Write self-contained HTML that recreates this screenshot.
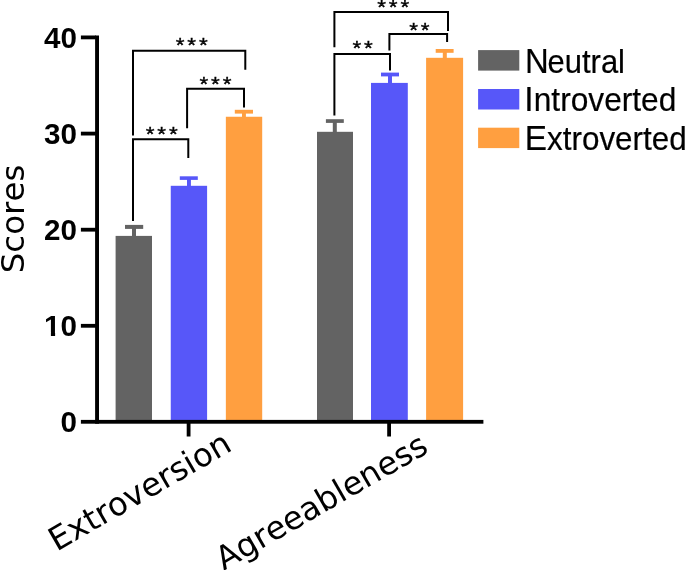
<!DOCTYPE html>
<html>
<head>
<meta charset="utf-8">
<title>Scores chart</title>
<style>
html,body{margin:0;padding:0;background:#fff;}
body{width:685px;height:570px;overflow:hidden;}
svg{display:block;}
text{font-kerning:none;}
.tick{font-family:"Liberation Sans",sans-serif;font-weight:bold;font-size:29.6px;fill:#000;}
.leg{font-family:"Liberation Sans",sans-serif;font-size:32.4px;fill:#000;stroke:#000;stroke-width:0.2px;}
.cap{font-size:34.4px;}
.ax{font-family:"DejaVu Sans",sans-serif;font-size:32.5px;fill:#000;}
.star{font-family:"Liberation Sans",sans-serif;font-size:22.5px;fill:#000;stroke:#000;stroke-width:0.4px;}
.br{fill:none;stroke:#000;stroke-width:2;stroke-linejoin:miter;}
</style>
</head>
<body>
<svg width="685" height="570" viewBox="0 0 685 570">
<rect width="685" height="570" fill="#fff"/>

<!-- bars group 1 -->
<rect x="115.6" y="235.9" width="36.4" height="186" fill="#636363"/>
<rect x="170.75" y="185.8" width="36.35" height="236" fill="#5757f9"/>
<rect x="225.85" y="116.75" width="36.35" height="306" fill="#ff9f40"/>
<!-- bars group 2 -->
<rect x="317" y="131.8" width="36" height="290" fill="#636363"/>
<rect x="371" y="82.9" width="36.8" height="339" fill="#5757f9"/>
<rect x="426.1" y="57.8" width="37" height="364" fill="#ff9f40"/>

<!-- error bars -->
<g fill="#636363">
<rect x="132" y="226" width="4" height="11"/><rect x="125" y="224.9" width="18.2" height="4"/>
<rect x="332.8" y="121" width="4" height="12"/><rect x="325.9" y="119.2" width="17.9" height="3.7"/>
</g>
<g fill="#5757f9">
<rect x="187" y="177" width="3.9" height="10"/><rect x="179.8" y="176.3" width="18" height="3.6"/>
<rect x="388" y="74" width="4" height="10"/><rect x="381" y="72.6" width="18" height="3.8"/>
</g>
<g fill="#ff9f40">
<rect x="242" y="111" width="3.9" height="7"/><rect x="234.8" y="109.8" width="18.2" height="3.8"/>
<rect x="442.8" y="50" width="4" height="9"/><rect x="435.7" y="49" width="17.9" height="3.8"/>
</g>

<!-- axes -->
<g fill="#000">
<rect x="95.1" y="35.5" width="3.9" height="388.2"/>
<rect x="80.9" y="419.9" width="402.5" height="3.8"/>
<rect x="80.9" y="35.5" width="15" height="3.8"/>
<rect x="80.9" y="131.7" width="15" height="3.8"/>
<rect x="80.9" y="227.8" width="15" height="3.8"/>
<rect x="80.9" y="323.9" width="15" height="3.8"/>
<rect x="186.7" y="422" width="3.8" height="14.5"/>
<rect x="387.2" y="422" width="3.8" height="14.5"/>
</g>

<!-- tick labels -->
<text class="tick" transform="translate(76.9,48) scale(1,1)" text-anchor="end">40</text>
<text class="tick" transform="translate(76.9,143.9) scale(1,1)" text-anchor="end">30</text>
<text class="tick" transform="translate(76.9,239.6) scale(1,1)" text-anchor="end">20</text>
<text class="tick" transform="translate(76.9,335.8) scale(1,1)" text-anchor="end">10</text>
<text class="tick" transform="translate(76.9,431.7) scale(1,1)" text-anchor="end">0</text>
<rect x="44.5" y="332.5" width="6.4" height="4.5" fill="#fff"/>
<rect x="55.1" y="332.5" width="6.2" height="4.5" fill="#fff"/>

<!-- significance brackets group 1 -->
<path class="br" d="M133 221 V139.35 H188.3 V158"/>
<path class="br" d="M187.1 128.2 V88.8 H244 V107.5"/>
<path class="br" d="M133 135.5 V50.8 H245.3 V69.7"/>
<!-- significance brackets group 2 -->
<path class="br" d="M334.4 115.4 V54 H390 V70.5"/>
<path class="br" d="M389.4 50.4 V34.04 H447.1 V42"/>
<path class="br" d="M334.4 47.2 V11.96 H448 V30.9"/>

<!-- significance stars -->
<text class="star" transform="translate(180.1,41) scale(1.0,0.93)" x="-4.33 7.27 18.87" y="11.59">***</text>
<text class="star" transform="translate(203.8,80.4) scale(1.0,0.93)" x="-4.33 7.27 18.87" y="11.59">***</text>
<text class="star" transform="translate(150.1,130.2) scale(1.0,0.93)" x="-4.33 7.27 18.87" y="11.59">***</text>
<text class="star" transform="translate(356.7,44) scale(1.0,0.93)" x="-4.33 7.27" y="11.59">**</text>
<text class="star" transform="translate(413.5,26) scale(1.0,0.93)" x="-4.33 7.27" y="11.59">**</text>
<text class="star" transform="translate(381.6,3.1) scale(1.0,0.93)" x="-4.33 7.27 18.87" y="11.59">***</text>

<!-- legend -->
<rect x="478.1" y="50.1" width="41.2" height="20.5" fill="#636363"/>
<rect x="478.1" y="89.0" width="41.2" height="20.5" fill="#5757f9"/>
<rect x="478.1" y="127.7" width="41.2" height="20.4" fill="#ff9f40"/>
<text class="leg" transform="translate(524.9,72.5) scale(0.9556,1)"><tspan class="cap">N</tspan><tspan dx="-1.1">eutral</tspan></text>
<text class="leg" transform="translate(524.37,111.1) scale(0.9781,1)"><tspan class="cap">I</tspan><tspan dx="0">ntroverted</tspan></text>
<text class="leg" transform="translate(524.77,149.85) scale(0.9696,1)"><tspan class="cap">E</tspan><tspan dx="0">xtroverted</tspan></text>

<!-- axis titles -->
<text class="ax" transform="translate(24.3,273.3) rotate(-90)">Scores</text>
<text class="ax" style="font-size:32.4px" transform="translate(233.6,449.7) rotate(-30)" text-anchor="end">Extroversion</text>
<text class="ax" style="font-size:32.25px" transform="translate(430.1,451.5) rotate(-30)" text-anchor="end">Agreeableness</text>
</svg>
</body>
</html>
